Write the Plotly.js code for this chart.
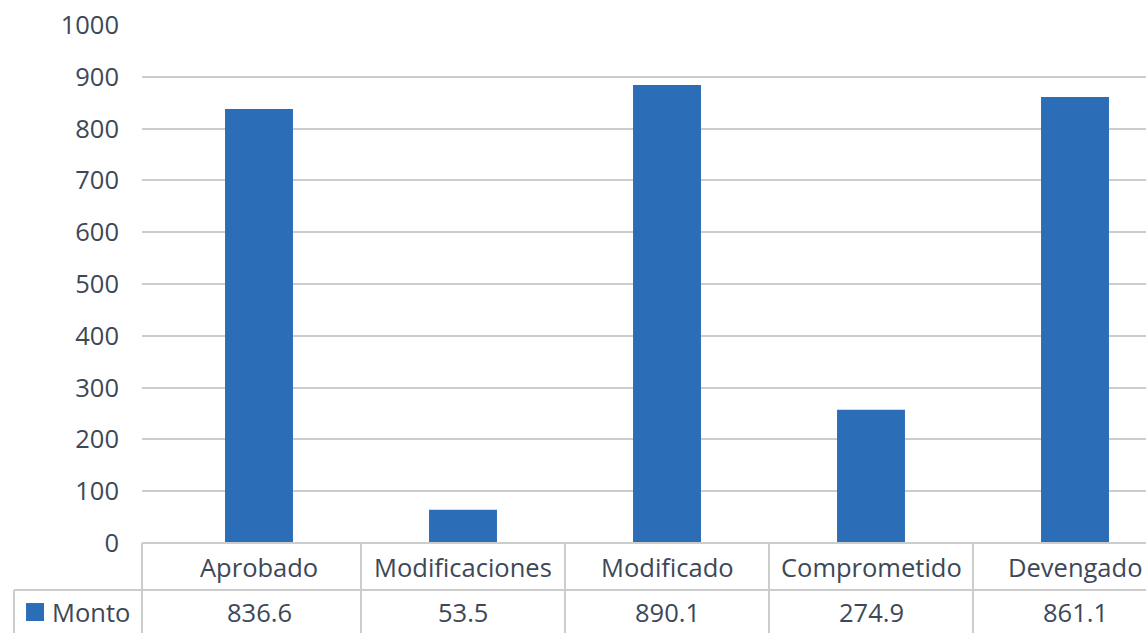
<!DOCTYPE html>
<html>
<head>
<meta charset="utf-8">
<script src="https://cdn.plot.ly/plotly-3.0.1.min.js"></script>
<style>html,body{margin:0;padding:0;background:#fff;}#chart{width:1146px;height:633px;}</style>
</head>
<body>
<div id="chart"></div>
<script>
// Data
var categories = ["Aprobado", "Modificaciones", "Modificado", "Comprometido", "Devengado"];
var barHeights = [838, 64, 884, 257, 861];          // bar heights as drawn
var tableValues = ["836.6", "53.5", "890.1", "274.9", "861.1"]; // data-table texts
var seriesName = "Monto";
var yTicks = [0, 100, 200, 300, 400, 500, 600, 700, 800, 900, 1000];

var textColor = "#3c4858";
var lineColor = "#cccccc";
var barColor = "#2b6db6";
var fontFamily = "'Open Sans', Lato, sans-serif";
var fontSize = 25.5;
var fontWeight = 400;

// table geometry (paper coordinates relative to the plot area)
var rowLine = -0.0907, tableBottom = -0.1737, leftCol = -0.1275;
var catRowY = -0.0454, valRowY = -0.1332;

var shapes = [];
shapes.push({type:"line", xref:"paper", yref:"paper", x0:0, x1:1, y0:0, y1:0, line:{color:lineColor, width:2}});
shapes.push({type:"line", xref:"paper", yref:"paper", x0:leftCol, x1:1, y0:rowLine, y1:rowLine, line:{color:lineColor, width:2}});
shapes.push({type:"line", xref:"paper", yref:"paper", x0:0, x1:0, y0:0, y1:tableBottom, line:{color:lineColor, width:2}});
shapes.push({type:"line", xref:"paper", yref:"paper", x0:leftCol, x1:leftCol, y0:rowLine, y1:tableBottom, line:{color:lineColor, width:2}});
for (var i = 0; i < categories.length - 1; i++) {
  shapes.push({type:"line", xref:"x", yref:"paper", x0:i+0.5, x1:i+0.5, y0:0, y1:tableBottom, line:{color:lineColor, width:2}});
}
shapes.push({type:"rect", xref:"paper", yref:"paper", x0:-0.1155, x1:-0.0976, y0:-0.1159, y1:-0.1506, fillcolor:barColor, line:{width:0}});

var tf = {family:fontFamily, size:fontSize, color:textColor, weight:fontWeight};
var annotations = [];
categories.forEach(function(c, i){
  annotations.push({xref:"x", yref:"paper", x:c, y:catRowY, text:c, showarrow:false, xanchor:"center", yanchor:"middle", font:tf});
  annotations.push({xref:"x", yref:"paper", x:c, y:valRowY, text:tableValues[i], showarrow:false, xanchor:"center", yanchor:"middle", font:tf});
});
annotations.push({xref:"paper", yref:"paper", x:-0.0916, y:valRowY, text:seriesName, showarrow:false, xanchor:"left", yanchor:"middle", font:tf});

var trace = {
  type:"bar",
  x: categories,
  y: barHeights,
  name: seriesName,
  marker:{color:barColor},
  hoverinfo:"x+y"
};

var layout = {
  width:1146, height:633,
  margin:{l:142, r:0, t:25, b:90, pad:0},
  paper_bgcolor:"#ffffff", plot_bgcolor:"#ffffff",
  showlegend:false,
  bargap:0.667,
  font:{family:fontFamily, color:textColor, size:fontSize},
  xaxis:{type:"category", range:[-0.5735, 4.348], showticklabels:false, showgrid:false, zeroline:false, showline:false, ticks:"", fixedrange:true},
  yaxis:{range:[0,1000], tickvals:yTicks, ticktext:yTicks.map(String), showgrid:true, gridcolor:lineColor, gridwidth:2, zeroline:false, showline:false, ticks:"", ticklabelstandoff:22, tickfont:tf, fixedrange:true},
  shapes:shapes,
  annotations:annotations
};

Plotly.newPlot("chart", [trace], layout, {displayModeBar:false, staticPlot:true});
</script>
</body>
</html>
